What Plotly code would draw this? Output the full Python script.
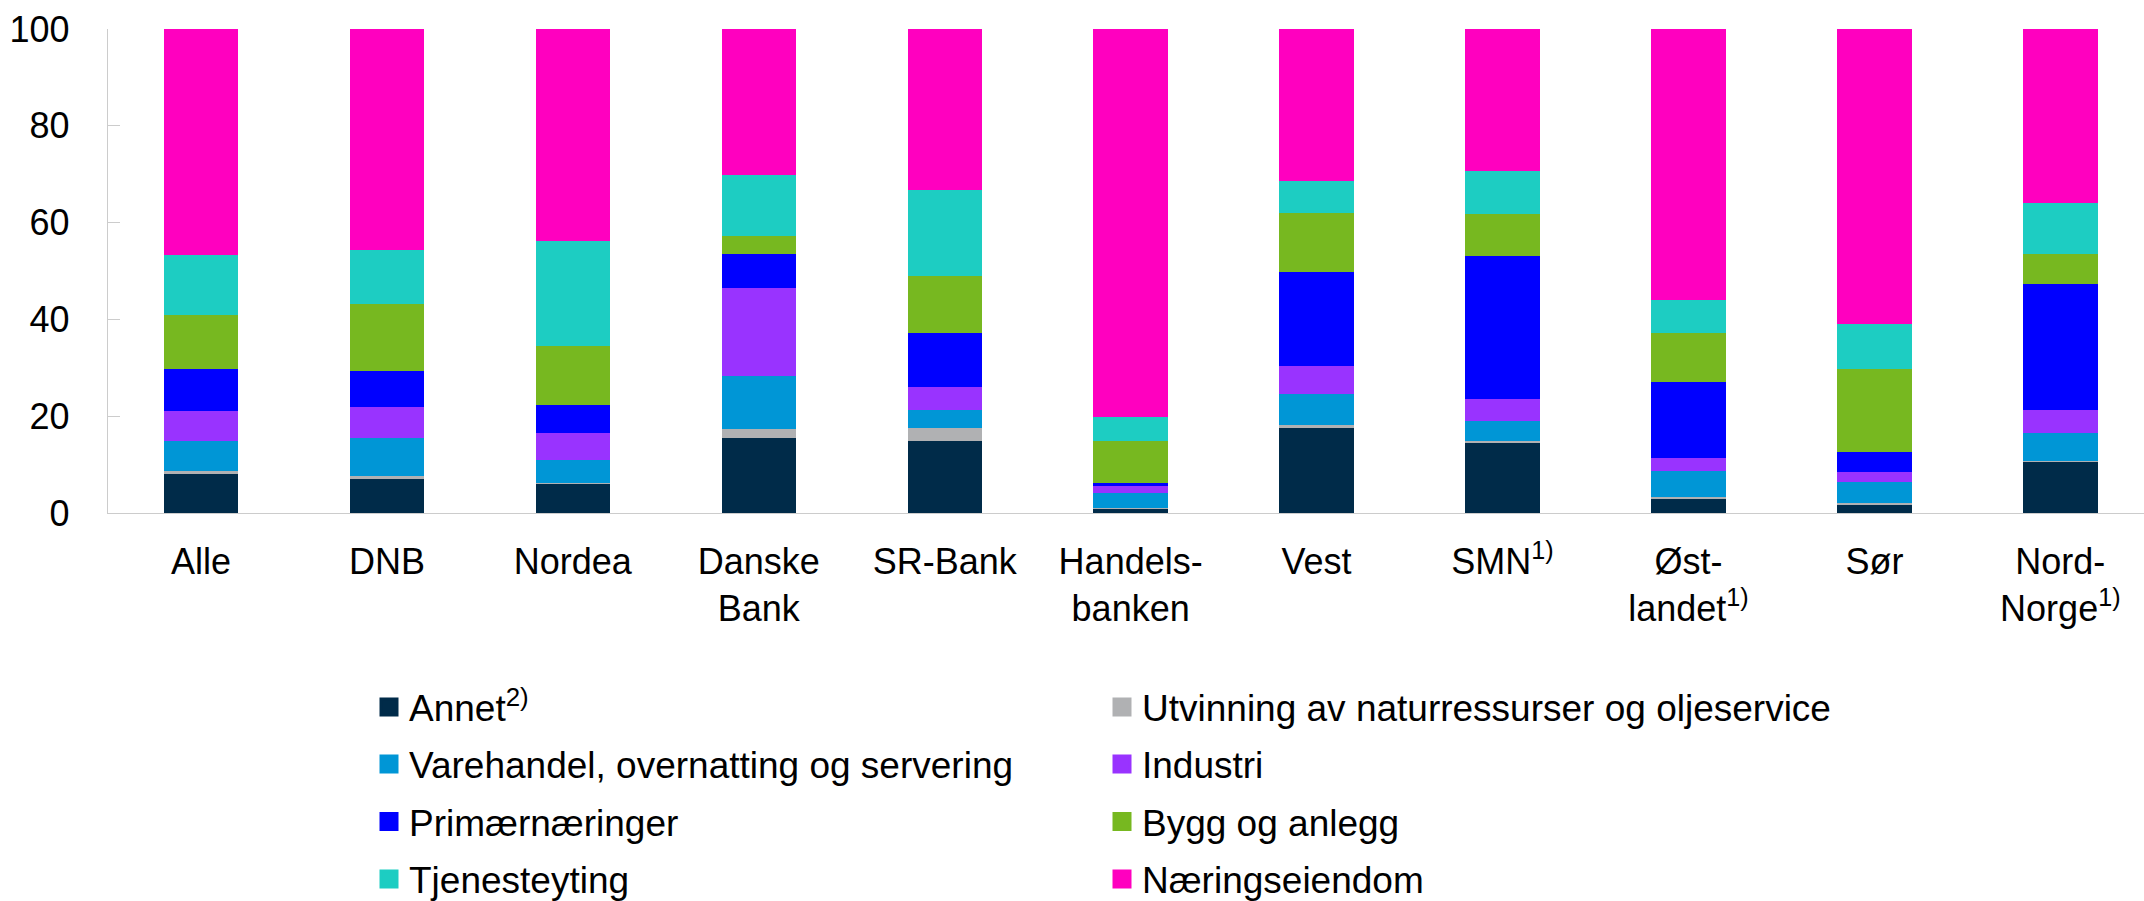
import plotly.graph_objects as go

# Share of corporate lending by sector, per bank/region (percent)
categories = ['Alle', 'DNB', 'Nordea', 'Danske Bank', 'SR-Bank', 'Handelsbanken',
              'Vest', 'SMN', 'Østlandet', 'Sør', 'Nord-Norge']
tick_labels = ['Alle', 'DNB', 'Nordea', 'Danske<br>Bank', 'SR-Bank', 'Handels-<br>banken',
               'Vest', 'SMN<sup>1)</sup>', 'Øst-<br>landet<sup>1)</sup>', 'Sør',
               'Nord-<br>Norge<sup>1)</sup>']

annet = [8.0, 7.1, 6.0, 15.6, 14.8, 0.9, 17.6, 14.6, 3.05, 1.85, 10.7]
utvinning = [0.6, 0.6, 0.1, 1.7, 2.8, 0.2, 0.6, 0.2, 0.2, 0.15, 0.1]
varehandel = [6.25, 7.7, 4.8, 11.1, 3.7, 3.1, 6.3, 4.2, 5.5, 4.5, 5.8]
industri = [6.25, 6.5, 5.6, 18.1, 4.75, 1.4, 5.85, 4.5, 2.6, 2.0, 4.7]
primaer = [8.7, 7.45, 5.8, 7.0, 11.2, 0.5, 19.4, 29.6, 15.75, 4.2, 26.1]
bygg = [11.2, 13.8, 12.2, 3.8, 11.7, 8.75, 12.2, 8.7, 10.0, 17.15, 6.05]
tjeneste = [12.4, 11.2, 21.7, 12.5, 17.8, 5.0, 6.7, 8.9, 7.0, 9.15, 10.55]
naering = [46.6, 45.7, 43.9, 30.2, 33.3, 80.2, 31.3, 29.2, 55.8, 61.0, 36.0]

series = [
    ('Annet<sup>2)</sup>', annet, '#002B49', 'legend'),
    ('Utvinning av naturressurser og oljeservice', utvinning, '#B0B1B3', 'legend'),
    ('Varehandel, overnatting og servering', varehandel, '#0096D6', 'legend2'),
    ('Industri', industri, '#9933FF', 'legend2'),
    ('Primærnæringer', primaer, '#0000FF', 'legend3'),
    ('Bygg og anlegg', bygg, '#77B820', 'legend3'),
    ('Tjenesteyting', tjeneste, '#1DCDC2', 'legend4'),
    ('Næringseiendom', naering, '#FF00BF', 'legend4'),
]

FONT = 'Liberation Sans, Arial, sans-serif'

fig = go.Figure()

for name, vals, color, _ in series:
    fig.add_trace(go.Bar(
        x=categories, y=vals, name=name,
        marker=dict(color=color, line=dict(width=0)),
        width=0.4, showlegend=False,
    ))

# legend proxies (bigger square symbols, one legend per row)
for name, vals, color, leg in series:
    fig.add_trace(go.Scatter(
        x=[None], y=[None], mode='markers', name=name, legend=leg,
        marker=dict(symbol='square', size=16, color=color, line=dict(width=3, color=color)),
    ))

plot_top, plot_bottom = 29, 513
plot_h = plot_bottom - plot_top
rows_px = [707.5, 764.5, 822, 879.5]
leg_x = (369 - 108) / 2036


def leg(ypx):
    return dict(
        orientation='h', x=leg_x, xanchor='left',
        y=(plot_bottom - ypx) / plot_h, yanchor='middle',
        entrywidth=688, itemsizing='trace', traceorder='normal',
        font=dict(family=FONT, size=37, color='black'),
        bgcolor='rgba(0,0,0,0)',
    )


fig.update_layout(
    barmode='stack',
    width=2144, height=901,
    margin=dict(l=108, r=0, t=plot_top, b=901 - plot_bottom, autoexpand=False),
    plot_bgcolor='white', paper_bgcolor='white',
    font=dict(family=FONT, size=36, color='black'),
    xaxis=dict(
        type='category', range=[-0.5, 10.45], automargin=False,
        tickvals=categories, ticktext=tick_labels,
        showline=True, linecolor='#CCCCCC', linewidth=1.3,
        ticks='', showgrid=False, ticklabelstandoff=17,
        tickfont=dict(family=FONT, size=36, color='black'),
    ),
    yaxis=dict(
        range=[0, 100], tickvals=[0, 20, 40, 60, 80, 100], automargin=False,
        showline=True, linecolor='#CCCCCC', linewidth=1.3,
        ticks='inside', ticklen=12, tickcolor='#CCCCCC', tickwidth=1.3,
        showgrid=False, zeroline=False, ticklabelstandoff=30,
        tickfont=dict(family=FONT, size=36, color='black'),
    ),
    legend=leg(rows_px[0]),
    legend2=leg(rows_px[1]),
    legend3=leg(rows_px[2]),
    legend4=leg(rows_px[3]),
)

# remove the browser's default page margin so the figure sits at the top-left corner
fig.write_html("out.html", config={'displayModeBar': False},
               post_script="document.body.style.margin='0';")
